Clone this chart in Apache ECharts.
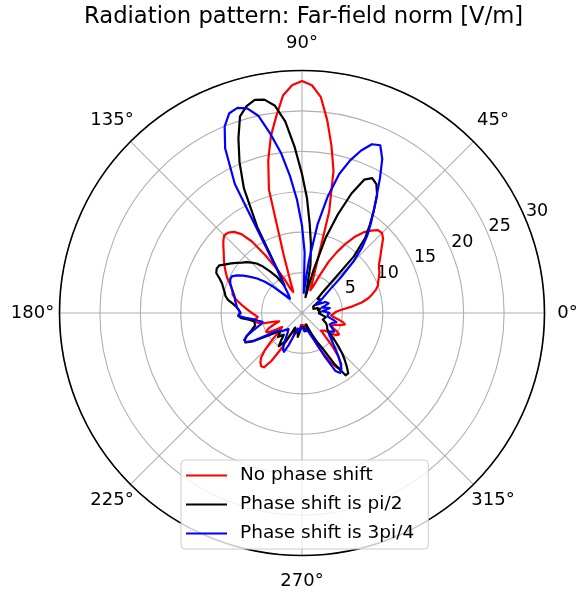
<!DOCTYPE html>
<html>
<head>
<meta charset="utf-8">
<script src="https://cdn.jsdelivr.net/npm/echarts@6/dist/echarts.min.js"></script>
<style>
html,body{margin:0;padding:0;background:#fff;}
#chart{width:581px;height:596px;}
</style>
</head>
<body>
<div id="chart"></div>
<script>
const titleText = 'Radiation pattern: Far-field norm [V/m]';
const seriesNames = ['No phase shift', 'Phase shift is pi/2', 'Phase shift is 3pi/4'];
const angles = [
  0,2.5,5,7.5,10,12.5,15,17.5,20,22.5,
  25,27.5,30,32.5,35,37.5,40,42.5,45,47.5,
  50,52.5,55,57.5,60,62.5,65,67.5,70,72.5,
  75,77.5,80,82.5,85,87.5,90,92.5,95,97.5,
  100,102.5,105,107.5,110,112.5,115,117.5,120,122.5,
  125,127.5,130,132.5,135,137.5,140,142.5,145,147.5,
  150,152.5,155,157.5,160,162.5,165,167.5,170,172.5,
  175,177.5,180,182.5,185,187.5,190,192.5,195,197.5,
  200,202.5,205,207.5,210,212.5,215,217.5,220,222.5,
  225,227.5,230,232.5,235,237.5,240,242.5,245,247.5,
  250,252.5,255,257.5,260,262.5,265,267.5,270,272.5,
  275,277.5,280,282.5,285,287.5,290,292.5,295,297.5,
  300,302.5,305,307.5,310,312.5,315,317.5,320,322.5,
  325,327.5,330,332.5,335,337.5,340,342.5,345,347.5,
  350,352.5,355,357.5,360];
const redVals = [
  4.0,4.3,5.0,6.3,7.5,8.4,9.0,9.6,10.0,10.2,
  10.5,10.8,11.0,11.3,11.8,12.3,12.9,13.6,14.0,13.9,
  13.3,12.6,11.6,10.3,8.8,7.2,5.0,3.5,3.0,5.0,
  13.0,18.0,21.0,24.0,26.8,28.2,28.7,28.2,27.0,24.5,
  22.2,19.3,15.8,7.5,4.3,2.8,3.2,4.8,6.5,8.5,
  10.8,12.3,13.1,13.5,13.6,13.2,12.7,12.2,11.8,11.4,
  11.0,10.6,10.2,9.7,9.3,9.0,8.9,8.5,8.0,7.5,
  7.0,6.6,6.2,5.8,5.5,5.8,6.0,5.6,4.8,3.5,
  3.0,3.8,4.6,5.0,4.8,3.8,3.0,3.3,4.0,5.2,
  6.5,7.5,8.0,8.3,8.2,7.0,5.0,3.0,2.0,2.5,
  3.0,2.5,2.0,2.3,2.5,2.0,1.5,1.5,1.5,1.5,
  1.5,1.8,2.0,1.8,1.5,1.6,2.0,3.0,4.2,5.6,
  7.0,8.0,8.4,8.0,7.0,5.5,4.0,3.2,3.0,3.6,
  4.5,5.1,5.3,4.8,4.0,3.8,4.2,5.0,5.5,5.2,
  4.5,4.0,3.6,3.6,4.0];
const blackVals = [
  2.0,2.3,2.5,2.2,2.0,2.3,2.5,2.0,1.5,1.4,
  1.5,1.5,1.6,2.0,2.5,2.8,3.0,2.6,3.5,9.5,
  12.2,13.8,15.5,17.3,18.4,18.8,18.2,16.0,13.0,9.8,
  5.5,2.0,6.0,8.5,11.0,14.2,17.2,20.5,23.8,25.9,
  26.8,27.0,26.5,25.5,23.0,20.2,17.0,12.0,5.5,4.0,
  5.5,6.5,7.5,8.3,8.8,9.3,9.7,10.2,10.7,11.2,
  11.8,11.9,11.7,11.0,10.5,10.2,9.9,9.7,9.3,8.6,
  8.1,7.8,7.6,7.9,7.5,6.5,6.0,5.8,6.0,6.4,
  6.8,7.4,7.8,7.9,7.0,5.5,4.5,3.8,3.5,3.8,
  4.2,3.8,3.5,4.2,5.0,5.0,4.0,2.8,2.0,2.3,
  2.6,2.2,2.0,2.5,3.0,2.5,2.0,1.7,1.5,1.5,
  1.5,1.8,2.0,2.3,2.5,2.0,1.5,2.0,3.0,4.0,
  5.0,7.5,9.4,9.4,8.6,7.8,7.0,6.1,5.3,4.6,
  4.0,3.7,3.5,3.5,3.5,3.2,3.0,2.7,2.5,2.8,
  3.0,2.7,2.5,2.2,2.0];
const blueVals = [
  3.5,3.0,2.5,3.0,3.5,3.0,2.5,3.0,3.5,3.6,
  3.2,2.5,2.0,2.5,3.0,3.6,4.5,6.5,9.0,11.0,
  12.6,14.0,15.5,17.2,19.3,21.5,22.9,22.6,21.4,19.8,
  17.8,14.8,11.2,6.5,2.5,7.5,10.8,14.0,17.0,20.0,
  22.5,25.0,26.2,26.6,26.3,25.0,22.5,18.0,6.0,4.5,
  3.2,2.6,2.3,2.4,3.5,4.8,6.0,7.0,7.8,8.6,
  9.3,9.8,9.8,9.6,9.3,9.0,8.7,8.5,8.4,8.2,
  8.1,7.8,7.7,7.9,7.0,6.0,5.5,5.0,5.2,5.8,
  6.5,7.4,7.9,7.8,6.8,5.0,4.0,3.6,3.5,3.3,
  3.0,2.8,2.6,2.8,3.2,3.8,4.5,5.1,5.3,4.3,
  3.0,2.5,2.0,2.3,2.5,2.2,2.0,1.7,1.5,1.7,
  2.0,2.3,2.5,2.2,2.0,2.3,2.5,3.2,4.0,6.0,
  8.3,8.8,8.5,7.8,7.0,6.2,5.5,5.0,4.5,4.2,
  4.0,4.3,4.6,4.3,4.0,3.7,3.5,4.0,4.4,4.0,
  3.5,3.2,3.0,3.2,3.5];
const colors = ['#ff0000', '#000000', '#0000ff'];

const FONT = 'DejaVu Sans';
const chart = echarts.init(document.getElementById('chart'), null, {renderer: 'canvas'});

function pairs(vals) { return vals.map((v, i) => [v, angles[i]]); }

const center = [302, 313];
const R = 242.5;

// label boxes so that each angle label is centred about 25px outside the circle
const angleLabelRich = {
  a0:   {width: 46, align: 'center'},
  a45:  {width: 39, height: 43, align: 'center'},
  a90:  {height: 55, align: 'center'},
  a135: {width: 37, height: 43, align: 'center'},
  a180: {width: 54, align: 'center'},
  a225: {width: 37, height: 31, align: 'center'},
  a270: {height: 51, align: 'center'},
  a315: {width: 39, height: 31, align: 'center'}
};
Object.keys(angleLabelRich).forEach(k => {
  angleLabelRich[k].fontFamily = FONT;
  angleLabelRich[k].fontSize = 18;
  angleLabelRich[k].color = '#000';
});

const option = {
  backgroundColor: '#ffffff',
  animation: false,
  textStyle: {fontFamily: FONT},
  title: {
    text: titleText,
    left: 79, top: 1,
    textStyle: {fontFamily: FONT, fontSize: 22.7, fontWeight: 'normal', color: '#000'}
  },
  legend: {
    orient: 'vertical',
    left: 181, top: 460,
    data: seriesNames,
    icon: 'rect',
    itemWidth: 41, itemHeight: 2,
    itemGap: 10,
    padding: [6, 14, 6, 5],
    backgroundColor: 'rgba(255,255,255,0.8)',
    borderColor: '#cccccc', borderWidth: 1, borderRadius: 4,
    textStyle: {fontFamily: FONT, fontSize: 18.5, color: '#000', padding: [0, 0, 0, 8]}
  },
  polar: [
    {center: center, radius: R},
    {center: center, radius: R}
  ],
  angleAxis: [
    {
      polarIndex: 0,
      type: 'value', min: 0, max: 360, interval: 45,
      startAngle: 0, clockwise: false,
      axisLine: {show: true, lineStyle: {color: '#000', width: 1.6}},
      axisTick: {show: false},
      axisLabel: {show: true, margin: 0,
        fontFamily: FONT, fontSize: 18, color: '#000',
        formatter: v => (v >= 360 ? '' : '{a' + v + '|' + v + '°}'),
        rich: angleLabelRich},
      splitLine: {show: true, lineStyle: {color: '#b0b0b0', width: 1.1}}
    },
    {
      polarIndex: 1,
      type: 'value', min: 0, max: 360,
      startAngle: 22.5, clockwise: false,
      axisLine: {show: false}, axisTick: {show: false}, axisLabel: {show: false}, splitLine: {show: false}
    }
  ],
  radiusAxis: [
    {
      polarIndex: 0,
      type: 'value', min: 0, max: 30, interval: 5,
      axisLine: {show: false}, axisTick: {show: false}, axisLabel: {show: false},
      splitLine: {show: true, lineStyle: {color: '#b0b0b0', width: 1.1}}
    },
    {
      polarIndex: 1,
      type: 'value', min: 0, max: 30, interval: 5,
      axisLine: {show: false}, axisTick: {show: false}, splitLine: {show: false},
      axisLabel: {
        show: true, margin: 0, align: 'center', verticalAlign: 'bottom',
        padding: [0, 0, 0, 22],
        fontFamily: FONT, fontSize: 17.5, color: '#000',
        formatter: v => (v === 0 ? '' : String(v))
      }
    }
  ],
  series: seriesNames.map((name, k) => ({
    name: name,
    type: 'line',
    coordinateSystem: 'polar',
    polarIndex: 0,
    data: pairs([redVals, blackVals, blueVals][k]),
    showSymbol: false,
    symbol: 'none',
    smooth: false,
    color: colors[k],
    lineStyle: {color: colors[k], width: 2.2, join: 'round'},
    z: 3 + k
  }))
};
chart.setOption(option);
</script>
</body>
</html>
